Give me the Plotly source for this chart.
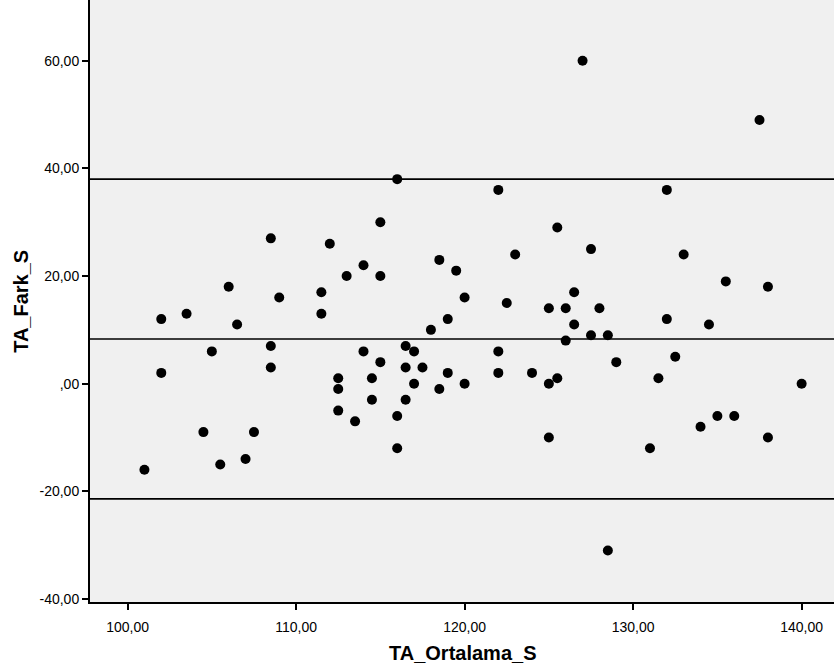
import plotly.graph_objects as go

# Bland-Altman data
ta_ortalama = [101, 102, 102, 103.5, 104.5, 105, 105.5, 106, 106.5, 107,
               107.5, 108.5, 108.5, 108.5, 109, 111.5, 111.5, 112, 112.5, 112.5,
               112.5, 113, 113.5, 114, 114, 114.5, 114.5, 115, 115, 115,
               116, 116, 116, 116.5, 116.5, 116.5, 117, 117, 117.5, 118,
               118.5, 118.5, 119, 119, 119.5, 120, 120, 122, 122, 122,
               122.5, 123, 124, 125, 125, 125, 125.5, 125.5, 126, 126,
               126.5, 126.5, 127, 127.5, 127.5, 128, 128.5, 128.5, 129, 131,
               131.5, 132, 132, 132.5, 133, 134, 134.5, 135, 135.5, 136,
               137.5, 138, 138, 140]
ta_fark = [-16, 12, 2, 13, -9, 6, -15, 18, 11, -14,
           -9, 27, 7, 3, 16, 17, 13, 26, 1, -1,
           -5, 20, -7, 22, 6, 1, -3, 30, 20, 4,
           38, -6, -12, 7, 3, -3, 6, 0, 3, 10,
           23, -1, 12, 2, 21, 16, 0, 36, 6, 2,
           15, 24, 2, 14, 0, -10, 29, 1, 14, 8,
           17, 11, 60, 25, 9, 14, 9, -31, 4, -12,
           1, 36, 12, 5, 24, -8, 11, -6, 19, -6,
           49, 18, -10, 0]

# Reference lines (mean difference and limits of agreement)
mean_diff = 8.3
upper_loa = 38.0
lower_loa = -21.4

x_tickvals = [100, 110, 120, 130, 140]
x_ticktext = ["100,00", "110,00", "120,00", "130,00", "140,00"]
y_tickvals = [-40, -20, 0, 20, 40, 60]
y_ticktext = ["-40,00", "-20,00", ",00", "20,00", "40,00", "60,00"]

x_title = "TA_Ortalama_S"
y_title = "TA_Fark_S"

fig = go.Figure()
fig.add_trace(go.Scatter(
    x=ta_ortalama, y=ta_fark, mode="markers",
    marker=dict(color="black", size=10, line=dict(width=0)),
    showlegend=False, hoverinfo="x+y"))

for yv in [upper_loa, mean_diff, lower_loa]:
    fig.add_shape(type="line", xref="paper", x0=0, x1=1, yref="y", y0=yv, y1=yv,
                  line=dict(color="black", width=1.6), layer="below")

font_family = "Liberation Sans, Arial, sans-serif"

fig.update_layout(
    width=834, height=672,
    margin=dict(l=90, r=0, t=0, b=70),
    paper_bgcolor="white", plot_bgcolor="#F0F0F0",
    font=dict(family=font_family, size=14, color="black"),
    xaxis=dict(range=[97.77, 141.92], tickvals=x_tickvals, ticktext=x_ticktext,
               showgrid=False, zeroline=False, showline=True, linecolor="black",
               linewidth=2, ticks="outside", ticklen=6, tickwidth=1.5,
               tickcolor="black", tickfont=dict(size=14), ticklabelstandoff=5),
    yaxis=dict(range=[-40.56, 71.28], tickvals=y_tickvals, ticktext=y_ticktext,
               showgrid=False, zeroline=False, showline=True, linecolor="black",
               linewidth=2, ticks="outside", ticklen=6, tickwidth=1.5,
               tickcolor="black", tickfont=dict(size=14)),
    annotations=[
        dict(text="<b>" + x_title + "</b>", xref="paper", yref="paper", x=0.5, y=-0.085,
             xanchor="center", yanchor="middle", showarrow=False,
             font=dict(size=20, family=font_family, color="black"), textangle=0),
        dict(text="<b>" + y_title + "</b>", xref="paper", yref="paper", x=-0.093, y=0.5,
             xanchor="center", yanchor="middle", showarrow=False,
             font=dict(size=20, family=font_family, color="black"), textangle=-90),
    ],
)

fig.write_html("out.html", config={"displayModeBar": False},
               post_script="document.body.style.margin='0';")
